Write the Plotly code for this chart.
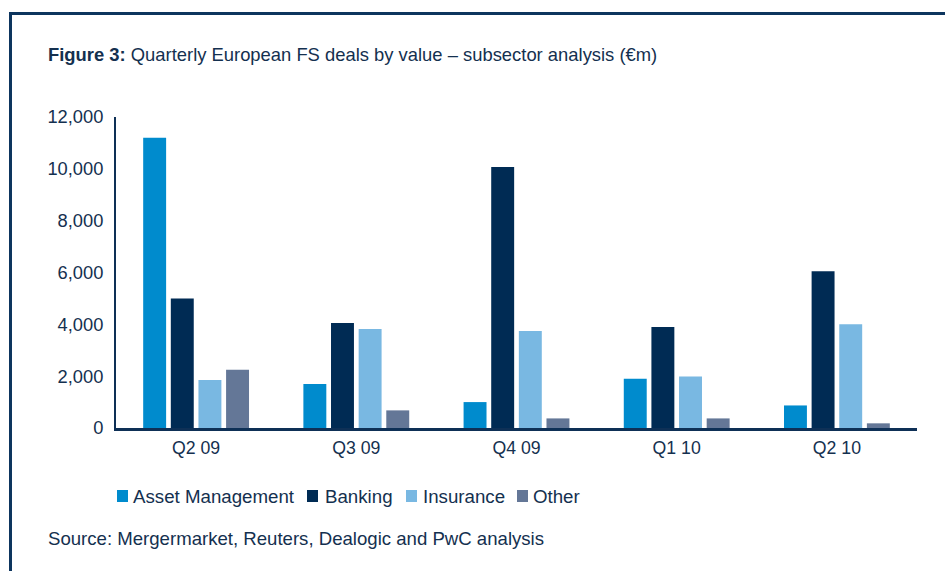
import plotly.graph_objects as go

categories = ["Q2 09", "Q3 09", "Q4 09", "Q1 10", "Q2 10"]
series_names = ["Asset Management", "Banking", "Insurance", "Other"]
asset_management = [11200, 1700, 1000, 1900, 870]
banking = [5000, 4050, 10070, 3900, 6050]
insurance = [1850, 3820, 3740, 1990, 4000]
other = [2250, 680, 370, 370, 180]
y_ticks = [0, 2000, 4000, 6000, 8000, 10000, 12000]
colors = ["#008BCD", "#002B54", "#79B8E2", "#647797"]

W, H = 945, 571
L, R, T, B = 116, 917, 117, 428
TXT = "#14304F"
FONT = "Liberation Sans, Arial, sans-serif"

def px(x):
    return (x - L) / (R - L)

def py(y):
    return (B - y) / (B - T)

fig = go.Figure()
for name, vals, col in zip(series_names, [asset_management, banking, insurance, other], colors):
    fig.add_trace(go.Bar(x=categories, y=vals, name=name, marker=dict(color=col, line=dict(width=0))))

fig.update_layout(
    width=W, height=H,
    margin=dict(l=L, r=W - R, t=T, b=H - B, pad=0),
    paper_bgcolor="white", plot_bgcolor="white",
    barmode="group", bargap=0.31, bargroupgap=0.17,
    showlegend=False,
    font=dict(family=FONT, size=17, color=TXT),
)
fig.update_yaxes(range=[0, 12000], tickvals=y_ticks, tickformat=",", showgrid=False, zeroline=False,
                 showline=True, linecolor="#0E3056", linewidth=2, ticks="outside", ticklen=7,
                 tickcolor="rgba(0,0,0,0)", tickfont=dict(size=18.3, color=TXT))
fig.update_xaxes(showgrid=False, showline=True, linecolor="#0E3056", linewidth=2.5, ticks="outside",
                 ticklen=2, tickcolor="rgba(0,0,0,0)", tickfont=dict(size=17.7, color=TXT))

# frame
fig.add_shape(type="line", xref="paper", yref="paper", x0=px(9), x1=px(W + 5), y0=py(13.5), y1=py(13.5),
              line=dict(color="#0D355E", width=3))
fig.add_shape(type="line", xref="paper", yref="paper", x0=px(10.5), x1=px(10.5), y0=py(12), y1=py(H + 5),
              line=dict(color="#0D355E", width=3))

# title
fig.add_annotation(xref="paper", yref="paper", x=px(46), y=py(54.5), xanchor="left", yanchor="middle",
                   showarrow=False, font=dict(size=18.4, color=TXT),
                   text="<b>Figure 3:</b> Quarterly European FS deals by value – subsector analysis (€m)")

# legend
sq_left = [117, 307, 406, 517]
txt_left = [131, 323, 421, 531]
ly = 496
for name, col, sx, tx in zip(series_names, colors, sq_left, txt_left):
    fig.add_shape(type="rect", xref="paper", yref="paper", x0=px(sx), x1=px(sx + 11),
                  y0=py(ly + 6), y1=py(ly - 6), fillcolor=col, line=dict(width=0))
    fig.add_annotation(xref="paper", yref="paper", x=px(tx), y=py(ly), xanchor="left", yanchor="middle",
                       showarrow=False, text=name, font=dict(size=18.7, color=TXT))

# source
fig.add_annotation(xref="paper", yref="paper", x=px(46), y=py(538), xanchor="left", yanchor="middle",
                   showarrow=False, text="Source: Mergermarket, Reuters, Dealogic and PwC analysis",
                   font=dict(size=18.6, color=TXT))

fig.write_html("out.html", config={"displayModeBar": False},
               post_script="document.body.style.margin='0px';document.body.style.overflow='hidden';")
